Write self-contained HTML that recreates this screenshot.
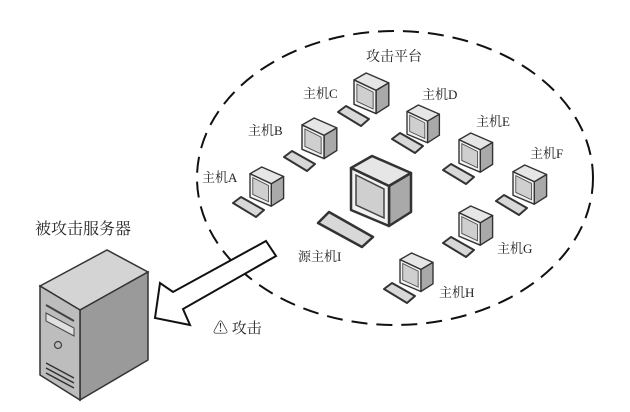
<!DOCTYPE html>
<html><head><meta charset="utf-8"><style>
body{margin:0;background:#fff;}
svg{display:block;}
text{font-family:"Liberation Serif","Noto Serif CJK SC",serif;fill:#222;}
</style></head><body>
<svg width="630" height="412" viewBox="0 0 630 412" xmlns="http://www.w3.org/2000/svg">
<defs>
<g id="mon">
<polygon points="0,12 21,0 60,17 38,30" fill="#e6e6e6" stroke="#333" stroke-width="2.5" stroke-linejoin="round"/>
<polygon points="38,30 60,17 60,56 38,70" fill="#a9a9a9" stroke="#333" stroke-width="2.5" stroke-linejoin="round"/>
<polygon points="0,12 38,30 38,70 0,54" fill="#f2f2f2" stroke="#333" stroke-width="2.5" stroke-linejoin="round"/>
<polygon points="5,19 33,33 33,62 5,49" fill="#cfcfcf" stroke="#444" stroke-width="1.5"/>
</g>
<g id="kb">
<polygon points="0,6 8,0 31,13 23,20" fill="#d8d8d8" stroke="#333" stroke-width="2" stroke-linejoin="round"/>
</g>
</defs>
<ellipse cx="395" cy="178" rx="198" ry="147" fill="none" stroke="#111" stroke-width="2" stroke-dasharray="16,9"/>
<text x="366" y="61" font-size="14">攻击平台</text>
<use href="#mon" transform="translate(250,167) scale(0.56)"/><use href="#kb" transform="translate(233,197)"/>
<use href="#mon" transform="translate(302,118) scale(0.58)"/><use href="#kb" transform="translate(284,151)"/>
<use href="#mon" transform="translate(354,73) scale(0.58)"/><use href="#kb" transform="translate(338,106)"/>
<use href="#mon" transform="translate(407,105) scale(0.54)"/><use href="#kb" transform="translate(392,133)"/>
<use href="#mon" transform="translate(459,133) scale(0.56)"/><use href="#kb" transform="translate(443,164)"/>
<use href="#mon" transform="translate(513,165) scale(0.56)"/><use href="#kb" transform="translate(496,195)"/>
<use href="#mon" transform="translate(459,206) scale(0.56)"/><use href="#kb" transform="translate(443,237)"/>
<use href="#mon" transform="translate(400,253) scale(0.55)"/><use href="#kb" transform="translate(384,283)"/>
<use href="#mon" transform="translate(351,156)"/>
<polygon points="318,223 329,212 373,237 362,247" fill="#d8d8d8" stroke="#333" stroke-width="2.5" stroke-linejoin="round"/>
<text x="202" y="182" font-size="13">主机A</text>
<text x="248" y="135" font-size="13">主机B</text>
<text x="303" y="98" font-size="13">主机C</text>
<text x="422" y="99" font-size="13">主机D</text>
<text x="476" y="126" font-size="13">主机E</text>
<text x="530" y="158" font-size="13">主机F</text>
<text x="497" y="253" font-size="13">主机G</text>
<text x="439" y="297" font-size="13">主机H</text>
<text x="298" y="261" font-size="13">源主机I</text>
<polygon points="266,241 276,256 183,309 190,325 155,318 160,283 173,292" fill="#fff" stroke="#111" stroke-width="2" stroke-linejoin="miter"/>
<text x="213" y="333" font-size="15">⚠ 攻击</text>
<text x="35" y="234" font-size="16">被攻击服务器</text>
<polygon points="40,286 107,250 148,272 80,310" fill="#d4d4d4" stroke="#333" stroke-width="1.5"/>
<polygon points="80,310 148,272 148,360 80,400" fill="#9a9a9a" stroke="#333" stroke-width="1.5"/>
<polygon points="40,286 80,310 80,400 40,375" fill="#bdbdbd" stroke="#333" stroke-width="1.5"/>
<line x1="46" y1="305" x2="74" y2="321" stroke="#444" stroke-width="2"/>
<polygon points="46,313 74,328 74,336 46,321" fill="#e0e0e0" stroke="#444" stroke-width="1"/>
<circle cx="58" cy="345" r="3.5" fill="none" stroke="#444" stroke-width="1.3"/>
<line x1="46" y1="363" x2="74" y2="378" stroke="#333" stroke-width="1.5"/>
<line x1="46" y1="368" x2="74" y2="383" stroke="#333" stroke-width="1.5"/>
<line x1="46" y1="373" x2="74" y2="388" stroke="#333" stroke-width="1.5"/>
</svg>
</body></html>
